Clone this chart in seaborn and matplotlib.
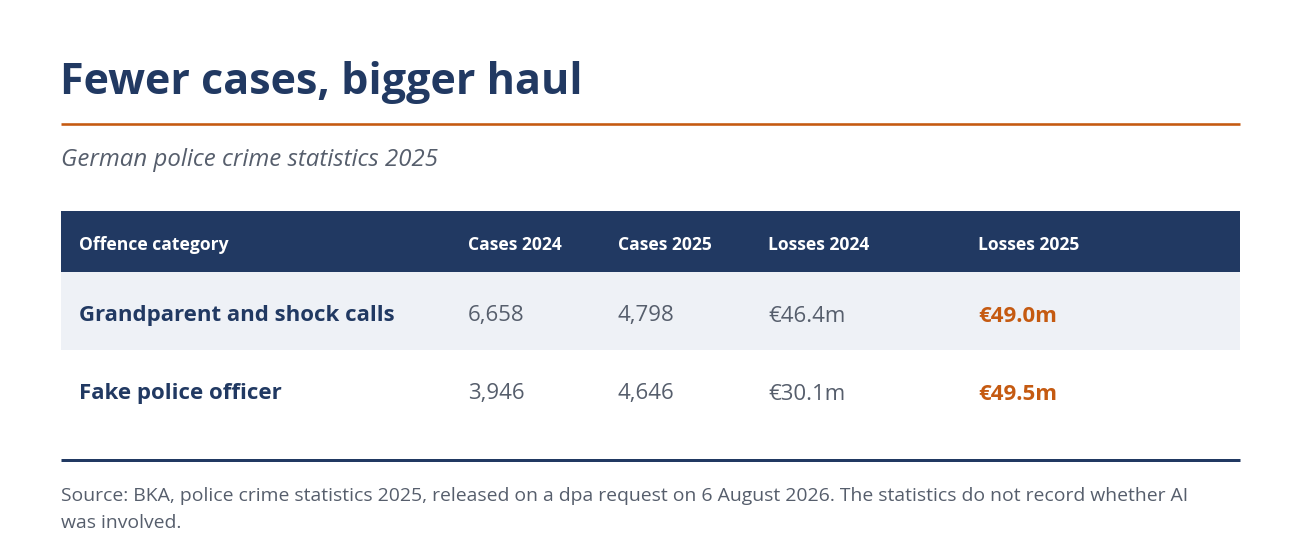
import matplotlib
matplotlib.use("Agg")
import matplotlib.pyplot as plt
import seaborn as sns
import pandas as pd

title = "Fewer cases, bigger haul"
subtitle = "German police crime statistics 2025"
source = ("Source: BKA, police crime statistics 2025, released on a dpa request on 6 August 2026. "
          "The statistics do not record whether AI\nwas involved.")

columns = ["Offence category", "Cases 2024", "Cases 2025", "Losses 2024", "Losses 2025"]
categories = ["Grandparent and shock calls", "Fake police officer"]
cases_2024 = [6658, 3946]
cases_2025 = [4798, 4646]
losses_2024 = [46.4, 30.1]
losses_2025 = [49.0, 49.5]

df = pd.DataFrame({
    columns[0]: categories,
    columns[1]: [f"{v:,}" for v in cases_2024],
    columns[2]: [f"{v:,}" for v in cases_2025],
    columns[3]: [f"€{v:.1f}m" for v in losses_2024],
    columns[4]: [f"€{v:.1f}m" for v in losses_2025],
})

sns.set_theme(style="white")
plt.rcParams["font.family"] = ["Open Sans", "DejaVu Sans"]

NAVY = "#213962"
ORANGE = "#c55a11"
GREY = "#565e6c"
STRIPE = "#eef1f6"

W, H = 1300, 554
fig = plt.figure(figsize=(13, 5.54), dpi=100)
ax = fig.add_axes([0, 0, 1, 1])
ax.set_xlim(0, W)
ax.set_ylim(H, 0)
ax.axis("off")

pt = 72 / 100  # px -> pt

ax.text(60, 82, title, fontsize=43.2 * pt, fontweight="bold", color=NAVY, va="center", ha="left")
ax.plot([61, 1240], [124, 124], color=ORANGE, lw=2.6 * pt, solid_capstyle="butt")
ax.text(61, 160, subtitle, fontsize=24 * pt, style="italic", color=GREY, va="center", ha="left")

left, right = 61, 1240
col_x = [79, 468, 618, 768, 978]
header_top, header_bot = 211, 272
row_h = 78

ax.add_patch(plt.Rectangle((left, header_top), right - left, header_bot - header_top,
                           facecolor=NAVY, edgecolor="none"))
for x, c in zip(col_x, columns):
    ax.text(x, (header_top + header_bot) / 2 + 4, c, fontsize=17.5 * pt, fontweight="bold",
            color="white", va="center", ha="left")

for i, row in df.iterrows():
    y0 = header_bot + i * row_h
    if i % 2 == 0:
        ax.add_patch(plt.Rectangle((left, y0), right - left, row_h,
                                   facecolor=STRIPE, edgecolor="none"))
    yc = y0 + row_h / 2 + 5
    for j, c in enumerate(columns):
        if j == 0:
            kw = dict(fontweight="bold", color=NAVY)
        elif j == 4:
            kw = dict(fontweight="bold", color=ORANGE)
        else:
            kw = dict(fontweight="normal", color=GREY)
        ax.text(col_x[j], yc, row[c], fontsize=22.3 * pt, va="center", ha="left", **kw)

ax.plot([61, 1240], [460, 460], color=NAVY, lw=3 * pt, solid_capstyle="butt")
ax.text(61, 496, source.split("\n")[0], fontsize=19.4 * pt, color=GREY, va="center", ha="left")
ax.text(61, 523, source.split("\n")[1], fontsize=19.4 * pt, color=GREY, va="center", ha="left")

fig.savefig("out.png", dpi=100, facecolor="white")
